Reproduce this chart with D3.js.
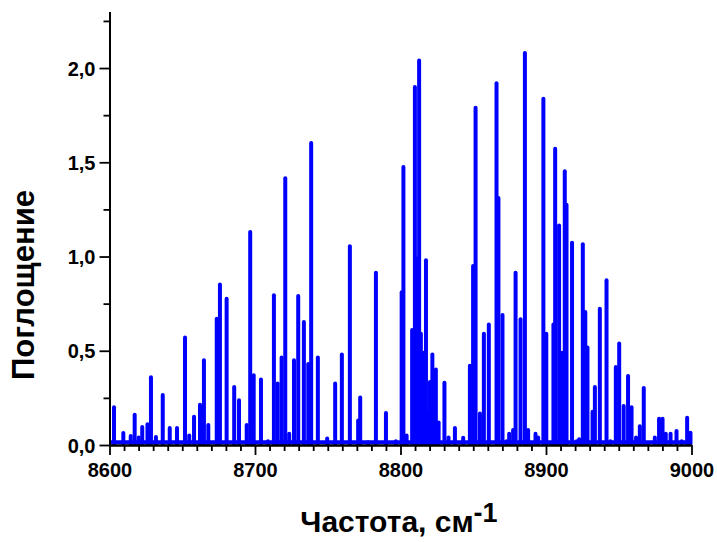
<!DOCTYPE html>
<html>
<head>
<meta charset="utf-8">
<script src="https://cdn.jsdelivr.net/npm/d3@7"></script>
<style>
  body { margin: 0; background: #ffffff; }
  svg text { font-family: "Liberation Sans", Arial, sans-serif; font-weight: bold; fill: #000; }
</style>
</head>
<body>
<svg id="chart" width="717" height="542"></svg>
<script>
// Absorption line positions (cm^-1) and their intensities
const lineFreq = [
  8603.1, 8609.5, 8614.6, 8617.3, 8620.1, 8622.5, 8626.1, 8628.5, 8631.9, 8636.6,
  8641.4, 8646.4, 8651.9, 8654.8, 8658.1, 8662.2, 8664.9, 8667.9, 8673.7, 8675.9,
  8680.5, 8685.7, 8689.0, 8694.3, 8696.7, 8699.1, 8704.1, 8708.9, 8713.0, 8715.6,
  8718.3, 8720.8, 8723.5, 8726.8, 8729.7, 8733.6, 8736.6, 8738.6, 8743.2, 8749.6,
  8755.1, 8759.7, 8765.2, 8770.9, 8772.3, 8777.8, 8783.1, 8790.0, 8796.8, 8800.8,
  8802.0, 8804.2, 8808.0, 8809.9, 8811.3, 8812.8, 8814.0, 8815.0, 8816.0, 8817.5,
  8819.0, 8820.2, 8821.9, 8823.0, 8824.3, 8826.2, 8830.2, 8833.0, 8837.4, 8843.1,
  8847.7, 8849.9, 8851.6, 8854.6, 8857.3, 8860.7, 8866.0, 8867.3, 8870.1, 8872.9,
  8874.7, 8877.4, 8879.1, 8882.5, 8885.5, 8887.7, 8890.1, 8892.8, 8894.6, 8898.2,
  8900.2, 8903.3, 8905.1, 8906.3, 8909.0, 8911.1, 8912.9, 8914.1, 8917.9, 8921.0,
  8922.8, 8925.3, 8927.0, 8928.5, 8932.0, 8933.6, 8937.0, 8941.6, 8944.3, 8948.0,
  8950.3, 8953.4, 8956.4, 8958.8, 8961.9, 8964.5, 8967.2, 8970.2, 8974.8, 8977.7,
  8980.1, 8982.3, 8985.6, 8989.7, 8993.3, 8997.0, 8999.3
];
const lineAbs = [
  0.21, 0.074, 0.058, 0.17, 0.05, 0.106, 0.12, 0.37, 0.053, 0.275,
  0.10, 0.10, 0.58, 0.06, 0.16, 0.224, 0.46, 0.116, 0.68, 0.862,
  0.786, 0.318, 0.247, 0.116, 1.14, 0.38, 0.357, 0.03, 0.804, 0.336,
  0.474, 1.426, 0.07, 0.46, 0.80, 0.663, 0.44, 1.612, 0.474, 0.045,
  0.336, 0.49, 1.064, 0.14, 0.262, 0.025, 0.924, 0.18, 0.03, 0.82,
  1.485, 0.06, 0.62, 1.909, 1.0, 2.05, 0.6, 0.4, 0.5, 0.99,
  0.18, 0.345, 0.49, 0.25, 0.41, 0.13, 0.34, 0.05, 0.10, 0.048,
  0.43, 0.96, 1.80, 0.177, 0.60, 0.65, 1.93, 1.32, 0.70, 0.03,
  0.07, 0.09, 0.924, 0.677, 2.09, 0.09, 0.02, 0.07, 0.05, 1.847,
  0.60, 0.02, 0.65, 1.582, 1.175, 0.50, 1.462, 1.285, 1.083, 0.03,
  0.04, 1.075, 0.716, 0.527, 0.186, 0.318, 0.733, 0.884, 0.03, 0.424,
  0.548, 0.217, 0.376, 0.21, 0.05, 0.11, 0.313, 0.02, 0.05, 0.15,
  0.15, 0.07, 0.07, 0.085, 0.03, 0.155, 0.075
];
const baseLevel = 0.015;

const xMajorTicks = [8600, 8700, 8800, 8900, 9000];
const yMajorTicks = [0, 0.5, 1.0, 1.5, 2.0];

const xTitle = "Частота, см";
const xTitleSup = "-1";
const yTitle = "Поглощение";

const svg = d3.select("#chart");

const x = d3.scaleLinear().domain([8600, 9000]).range([109.5, 691.5]);
const y = d3.scaleLinear().domain([0, 2.3]).range([445, 11.5]);

const commaFmt = v => d3.format(".1f")(v).replace(".", ",");

// spectrum: baseline plus one stick per line
const blue = "#0000ff";
svg.append("line")
  .attr("x1", x(8600)).attr("x2", x(9000))
  .attr("y1", y(baseLevel)).attr("y2", y(baseLevel))
  .attr("stroke", blue).attr("stroke-width", 4);

const lines = lineFreq.map((f, i) => ({ f, a: lineAbs[i] }));
svg.append("g").selectAll("line").data(lines).join("line")
  .attr("x1", d => x(d.f)).attr("x2", d => x(d.f))
  .attr("y1", y(0.005)).attr("y2", d => y(d.a) + 1.9)
  .attr("stroke", blue).attr("stroke-width", 4)
  .attr("stroke-linecap", "round");

// axes
const xMinor = d3.range(8600, 9001, 10).filter(v => v % 100 !== 0);
const yMinor = [0.25, 0.75, 1.25, 1.75, 2.25];

const gx = svg.append("g").attr("transform", `translate(0,${y(0)})`);
gx.call(d3.axisBottom(x).tickValues(xMinor).tickSize(6).tickFormat("").tickSizeOuter(0));
gx.call(g => g.append("g").call(d3.axisBottom(x).tickValues(xMajorTicks).tickSize(10)
  .tickSizeOuter(0).tickPadding(8).tickFormat(d3.format("d"))));

const gy = svg.append("g").attr("transform", `translate(${x(8600)},0)`);
gy.call(d3.axisLeft(y).tickValues(yMinor).tickSize(6).tickFormat("").tickSizeOuter(0));
gy.call(g => g.append("g").call(d3.axisLeft(y).tickValues(yMajorTicks).tickSize(10)
  .tickSizeOuter(0).tickPadding(4).tickFormat(commaFmt)));

svg.selectAll(".domain").attr("stroke", "#000").attr("stroke-width", 2);
svg.selectAll(".tick line").attr("stroke", "#000").attr("stroke-width", 1.8);
svg.selectAll(".tick text").style("font-size", "20px")
  .style("font-family", "'Liberation Sans', Arial, sans-serif")
  .style("font-weight", "bold").attr("fill", "#000");
gx.selectAll(".tick text").attr("dy", "0.71em");
gy.selectAll(".tick text").attr("dy", "0.36em");

// axis titles
const xt = svg.append("text")
  .attr("x", 399).attr("y", 531.5)
  .attr("text-anchor", "middle")
  .style("font-size", "30px");
xt.append("tspan").text(xTitle);
xt.append("tspan").attr("dy", -10).style("font-size", "27px").text(xTitleSup);

svg.append("text")
  .attr("transform", "translate(34,285) rotate(-90)")
  .attr("text-anchor", "middle")
  .style("font-size", "31px")
  .text(yTitle);
</script>
</body>
</html>
